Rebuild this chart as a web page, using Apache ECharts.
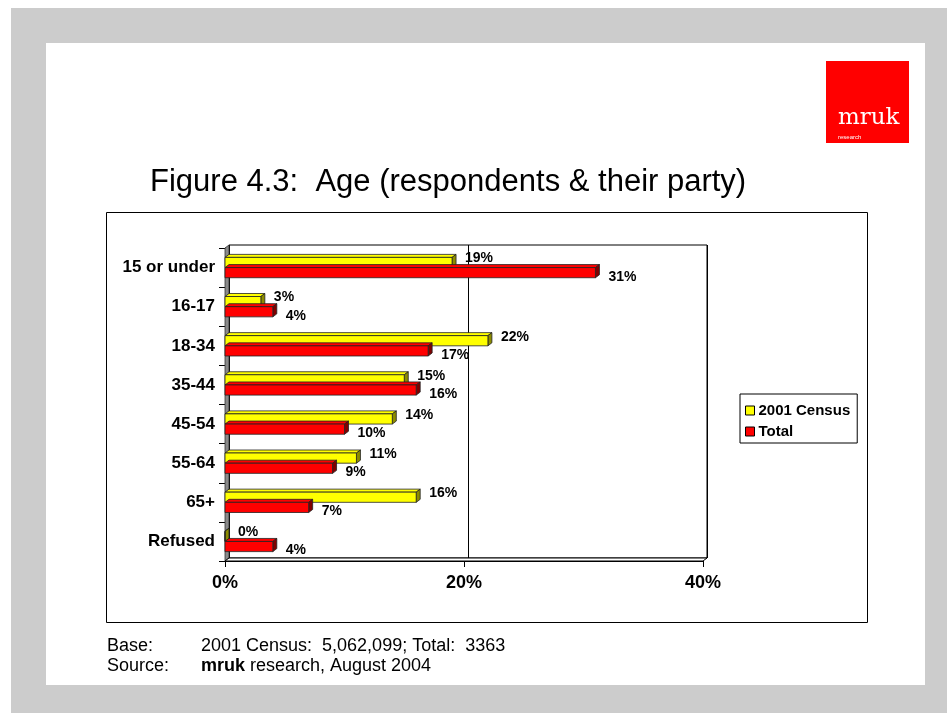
<!DOCTYPE html>
<html>
<head>
<meta charset="utf-8">
<script src="https://cdn.jsdelivr.net/npm/echarts@6/dist/echarts.min.js"></script>
<style>
html,body{margin:0;padding:0;background:#fff;}
#chart{width:947px;height:713px;}
</style>
</head>
<body>
<div id="chart"></div>
<script>
const categories = ['15 or under', '16-17', '18-34', '35-44', '45-54', '55-64', '65+', 'Refused'];
const census2001 = [19, 3, 22, 15, 14, 11, 16, 0];
const total = [31, 4, 17, 16, 10, 9, 7, 4];
const xTicks = [0, 20, 40];
const seriesNames = ['2001 Census', 'Total'];

const FONT = "'Liberation Sans', Arial, sans-serif";
const DX = 4, DY = -3;
const faces = [
  { front: '#ffff00', top: '#ffff00', side: '#8c8c00', labelDy: -4 },
  { front: '#ff0000', top: '#ff0000', side: '#800000', labelDy: 4 }
];

function barRenderer(s) {
  return function (params, api) {
    const val = api.value(0), cat = api.value(1);
    const p0 = api.coord([0, cat]);
    const p1 = api.coord([val, cat]);
    const band = api.size([0, 1])[1];
    const h = band * 0.26;
    const yTop = s === 0 ? p0[1] - h : p0[1];
    const x0 = p0[0], x1 = p1[0];
    const f = faces[s];
    const stroke = { stroke: '#222', lineWidth: 0.8 };
    return {
      type: 'group',
      children: [
        { type: 'polygon', shape: { points: [[x0, yTop], [x0 + DX, yTop + DY], [x1 + DX, yTop + DY], [x1, yTop]] },
          style: Object.assign({ fill: f.top }, stroke) },
        { type: 'polygon', shape: { points: [[x1, yTop], [x1 + DX, yTop + DY], [x1 + DX, yTop + h + DY], [x1, yTop + h]] },
          style: Object.assign({ fill: f.side }, stroke) },
        { type: 'rect', shape: { x: x0, y: yTop, width: Math.max(x1 - x0, 0), height: h },
          style: Object.assign({ fill: f.front }, stroke) },
        { type: 'text', style: { text: val + '%', x: x1 + DX + 9, y: yTop + h / 2 + f.labelDy,
          fill: '#000', fontFamily: FONT, fontWeight: 'bold', fontSize: 14, align: 'left', verticalAlign: 'middle' } }
      ]
    };
  };
}

function wallRenderer(params, api) {
  const c = params.coordSys;
  const x = c.x, y = c.y, w = c.width, h = c.height;
  return {
    type: 'group',
    children: [
      { type: 'polygon', shape: { points: [[x, y], [x + DX, y + DY], [x + DX, y + h + DY], [x, y + h]] },
        style: { fill: '#8a8a8a', stroke: '#333', lineWidth: 0.8 } },
      { type: 'polygon', shape: { points: [[x, y + h], [x + DX, y + h + DY], [x + w + DX, y + h + DY], [x + w, y + h]] },
        style: { fill: '#ffffff', stroke: '#000', lineWidth: 1 } }
    ]
  };
}

const chart = echarts.init(document.getElementById('chart'), null, { renderer: 'canvas' });

const option = {
  animation: false,
  backgroundColor: '#ffffff',
  graphic: [
    { type: 'rect', z: -10, shape: { x: 11, y: 8, width: 936, height: 705 }, style: { fill: '#cccccc' }, silent: true },
    { type: 'rect', z: -9, shape: { x: 46, y: 43, width: 879, height: 642 }, style: { fill: '#ffffff' }, silent: true },
    { type: 'rect', z: -8, shape: { x: 106.5, y: 212.5, width: 761, height: 410 }, style: { fill: '#ffffff', stroke: '#000', lineWidth: 1 }, silent: true },
    { type: 'rect', z: 5, shape: { x: 826, y: 61, width: 83, height: 82 }, style: { fill: '#ff0000' }, silent: true },
    { type: 'text', z: 6, style: { text: 'mruk', x: 838, y: 130, fill: '#ffffff', fontFamily: "'DejaVu Serif', serif", fontSize: 23, align: 'left', verticalAlign: 'bottom' }, silent: true },
    { type: 'text', z: 6, style: { text: 'research', x: 838, y: 137, fill: '#ffffff', fontFamily: FONT, fontSize: 6, align: 'left', verticalAlign: 'middle' }, silent: true },
    { type: 'text', z: 6, style: { text: 'Figure 4.3:  Age (respondents & their party)', x: 150, y: 182, fill: '#000', fontFamily: FONT, fontSize: 31, align: 'left', verticalAlign: 'middle' }, silent: true },
    { type: 'text', z: 6, style: { text: 'Base:', x: 107, y: 646, fill: '#000', fontFamily: FONT, fontSize: 18, align: 'left', verticalAlign: 'middle' }, silent: true },
    { type: 'text', z: 6, style: { text: '2001 Census:  5,062,099; Total:  3363', x: 201, y: 646, fill: '#000', fontFamily: FONT, fontSize: 18, align: 'left', verticalAlign: 'middle' }, silent: true },
    { type: 'text', z: 6, style: { text: 'Source:', x: 107, y: 666, fill: '#000', fontFamily: FONT, fontSize: 18, align: 'left', verticalAlign: 'middle' }, silent: true },
    { type: 'text', z: 6, style: { text: '{b|mruk} research, August 2004', x: 201, y: 666, fill: '#000', fontFamily: FONT, fontSize: 18, align: 'left', verticalAlign: 'middle',
      rich: { b: { fontWeight: 'bold', fontFamily: FONT, fontSize: 18, fill: '#000' } } }, silent: true }
  ],
  legend: {
    orient: 'vertical',
    left: 740, top: 394,
    width: 117,
    padding: [9, 7, 4, 5],
    itemGap: 6,
    itemWidth: 9, itemHeight: 9,
    icon: 'rect',
    backgroundColor: '#ffffff',
    borderColor: '#000', borderWidth: 1, borderRadius: 0,
    textStyle: { fontFamily: FONT, fontWeight: 'bold', fontSize: 15, color: '#000', lineHeight: 15, padding: [0, 0, 0, -1] },
    data: [
      { name: seriesNames[0], itemStyle: { color: '#ffff00', borderColor: '#000', borderWidth: 1 } },
      { name: seriesNames[1], itemStyle: { color: '#ff0000', borderColor: '#000', borderWidth: 1 } }
    ]
  },
  grid: [
    { left: 225, right: 244, top: 248, bottom: 152, containLabel: false },
    { left: 229, right: 240, top: 245, bottom: 155, containLabel: false, show: true, borderColor: '#000', borderWidth: 1, backgroundColor: '#ffffff' }
  ],
  xAxis: [
    { type: 'value', gridIndex: 0, min: xTicks[0], max: xTicks[xTicks.length - 1], interval: xTicks[1] - xTicks[0],
      axisLine: { show: true, lineStyle: { color: '#000', width: 1 } },
      axisTick: { show: true, length: 6, lineStyle: { color: '#000' } },
      splitLine: { show: false },
      axisLabel: { formatter: '{value}%', fontFamily: FONT, fontWeight: 'bold', fontSize: 18, color: '#000', margin: 13 } },
    { type: 'value', gridIndex: 1, min: xTicks[0], max: xTicks[xTicks.length - 1], interval: xTicks[1] - xTicks[0],
      axisLine: { show: false }, axisTick: { show: false }, axisLabel: { show: false },
      splitLine: { show: true, lineStyle: { color: '#000', width: 1 } } }
  ],
  yAxis: [
    { type: 'category', gridIndex: 0, data: categories, inverse: true,
      axisLine: { show: true, lineStyle: { color: '#000', width: 1 } },
      axisTick: { show: true, length: 6, alignWithLabel: false, lineStyle: { color: '#000' } },
      axisLabel: { fontFamily: FONT, fontWeight: 'bold', fontSize: 17, color: '#000', margin: 10 } },
    { type: 'category', gridIndex: 1, data: categories, inverse: true, show: false }
  ],
  series: [
    { type: 'custom', name: 'wall', xAxisIndex: 0, yAxisIndex: 0, silent: true, z: 1, clip: false,
      data: [[0, 0]], renderItem: wallRenderer },
    { type: 'custom', name: seriesNames[0], xAxisIndex: 0, yAxisIndex: 0, z: 3, clip: false,
      itemStyle: { color: '#ffff00' },
      data: census2001.map((v, i) => [v, i]), renderItem: barRenderer(0) },
    { type: 'custom', name: seriesNames[1], xAxisIndex: 0, yAxisIndex: 0, z: 3, clip: false,
      itemStyle: { color: '#ff0000' },
      data: total.map((v, i) => [v, i]), renderItem: barRenderer(1) }
  ]
};
chart.setOption(option);
</script>
</body>
</html>
